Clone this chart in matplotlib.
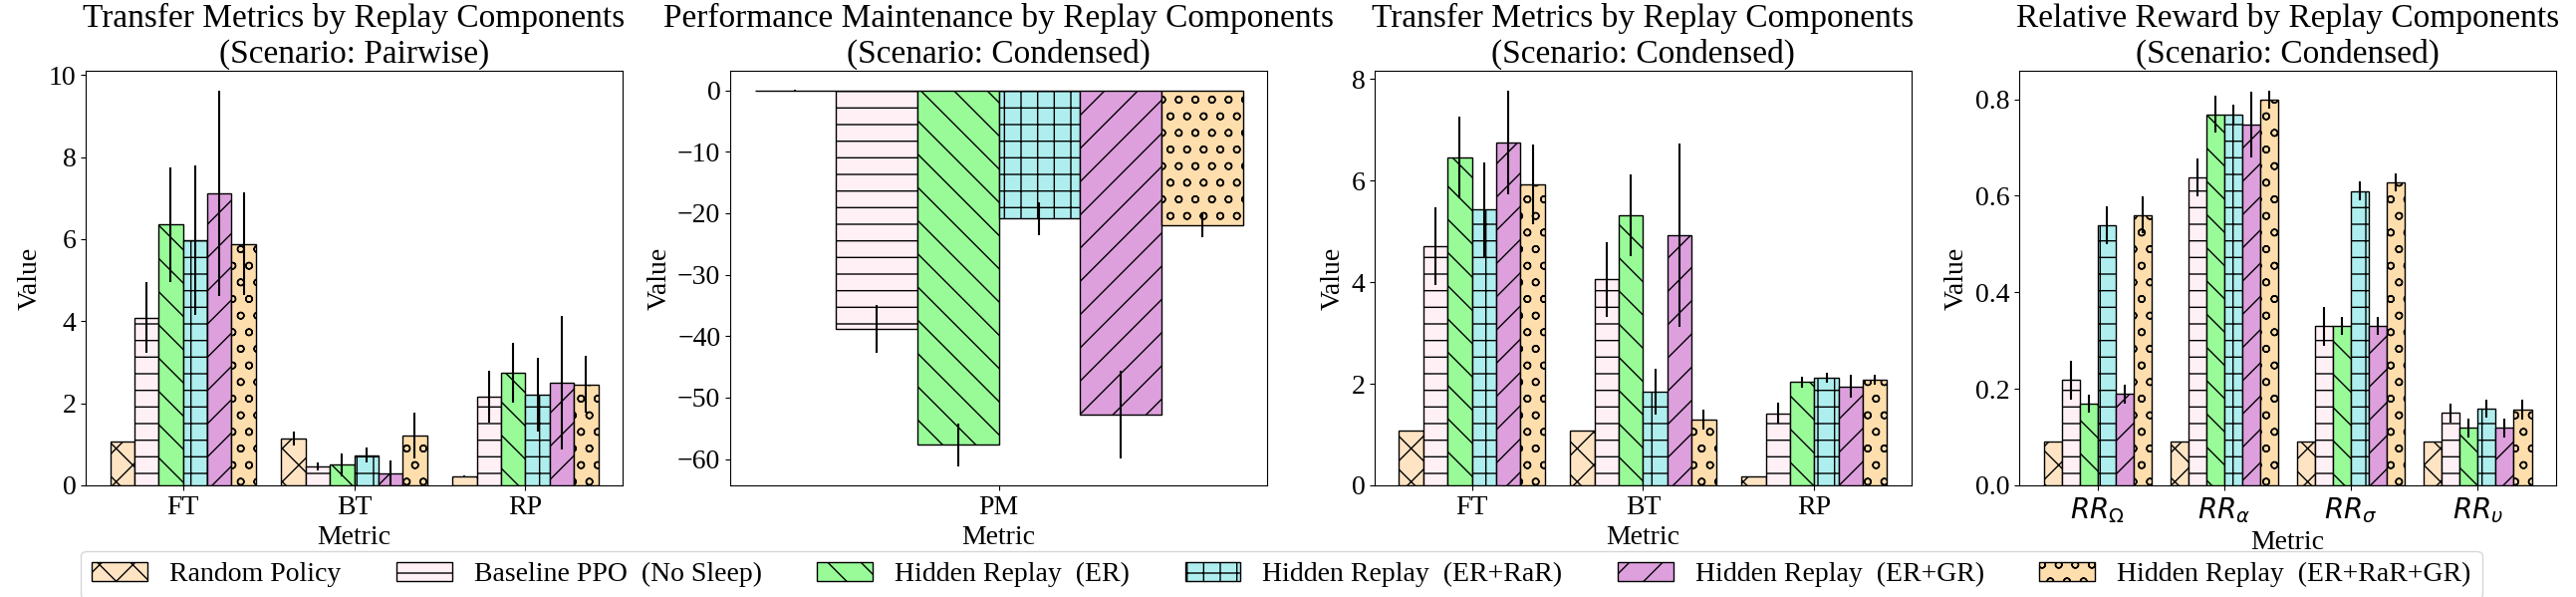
import numpy as np
import matplotlib
matplotlib.use('Agg')
import matplotlib.pyplot as plt

plt.rcParams['font.family'] = ['Liberation Serif', 'DejaVu Sans']
plt.rcParams['hatch.linewidth'] = 1.0

methods = ['Random Policy', 'Baseline PPO  (No Sleep)', 'Hidden Replay  (ER)',
           'Hidden Replay  (ER+RaR)', 'Hidden Replay  (ER+GR)', 'Hidden Replay  (ER+RaR+GR)']
colors = ['bisque', 'lavenderblush', 'palegreen', 'paleturquoise', 'plum', 'navajowhite']
hatches = ['x', '-', '\\', '+', '/', 'o']

# transfer metrics, pairwise scenario (rows = methods, cols = FT, BT, RP)
pair_metrics = ['FT', 'BT', 'RP']
pair_mean = [[1.07, 1.13, 0.22],
             [4.09, 0.46, 2.16],
             [6.35, 0.50, 2.74],
             [5.97, 0.74, 2.20],
             [7.12, 0.30, 2.50],
             [5.88, 1.21, 2.46]]
pair_err = [[0.01, 0.17, 0.02],
            [0.86, 0.10, 0.62],
            [1.40, 0.27, 0.73],
            [1.83, 0.19, 0.90],
            [2.50, 0.30, 1.62],
            [1.25, 0.56, 0.69]]

# performance maintenance, condensed scenario
pm_metrics = ['PM']
pm_mean = [[-0.1], [-38.8], [-57.7], [-20.9], [-52.75], [-21.9]]
pm_err = [[0.2], [3.9], [3.5], [2.7], [7.2], [2.05]]

# transfer metrics, condensed scenario
cond_metrics = ['FT', 'BT', 'RP']
cond_mean = [[1.07, 1.07, 0.18],
             [4.71, 4.05, 1.42],
             [6.45, 5.31, 2.03],
             [5.43, 1.84, 2.11],
             [6.75, 4.92, 1.95],
             [5.92, 1.30, 2.08]]
cond_err = [[0.0, 0.0, 0.0],
            [0.76, 0.73, 0.20],
            [0.81, 0.80, 0.10],
            [0.93, 0.45, 0.10],
            [1.02, 1.80, 0.23],
            [0.79, 0.20, 0.10]]

# relative reward, condensed scenario
rr_metrics = [r'$RR_{\Omega}$', r'$RR_{\alpha}$', r'$RR_{\sigma}$', r'$RR_{\upsilon}$']
rr_mean = [[0.091, 0.091, 0.091, 0.091],
           [0.218, 0.638, 0.330, 0.150],
           [0.169, 0.769, 0.330, 0.119],
           [0.539, 0.769, 0.610, 0.159],
           [0.189, 0.748, 0.330, 0.119],
           [0.560, 0.799, 0.628, 0.157]]
rr_err = [[0.0, 0.0, 0.0, 0.0],
          [0.040, 0.040, 0.040, 0.019],
          [0.019, 0.038, 0.018, 0.020],
          [0.039, 0.020, 0.019, 0.019],
          [0.020, 0.068, 0.018, 0.020],
          [0.038, 0.019, 0.019, 0.020]]


def draw(ax, metrics, means, errs, title):
    x = np.arange(len(metrics))
    w = 0.142
    for i in range(len(methods)):
        ax.bar(x + (i - 2.5) * w, means[i], w, yerr=errs[i], color=colors[i],
               hatch=hatches[i], edgecolor='black', linewidth=1, label=methods[i],
               error_kw=dict(ecolor='black', elinewidth=1.5, capsize=0))
    ax.set_xticks(x, metrics)
    ax.set_title(title, fontsize=24)
    ax.set_xlabel('Metric', fontsize=20)
    ax.set_ylabel('Value', fontsize=20)
    ax.tick_params(labelsize=20)


fig = plt.figure(figsize=(25.86, 5.99), dpi=100)
lefts = [86, 733, 1380, 2027]
axes = [fig.add_axes([l / 2586, 0.187, 539 / 2586, 0.6945]) for l in lefts]

draw(axes[0], pair_metrics, pair_mean, pair_err,
     'Transfer Metrics by Replay Components\n(Scenario: Pairwise)')
draw(axes[1], pm_metrics, pm_mean, pm_err,
     'Performance Maintenance by Replay Components\n(Scenario: Condensed)')
draw(axes[2], cond_metrics, cond_mean, cond_err,
     'Transfer Metrics by Replay Components\n(Scenario: Condensed)')
draw(axes[3], rr_metrics, rr_mean, rr_err,
     'Relative Reward by Replay Components\n(Scenario: Condensed)')

handles, labels = axes[0].get_legend_handles_labels()
fig.legend(handles, labels, loc='upper center', bbox_to_anchor=(0.4975, 0.077),
           borderaxespad=0, ncol=6, fontsize=20)

fig.savefig('out.png', dpi=100)
